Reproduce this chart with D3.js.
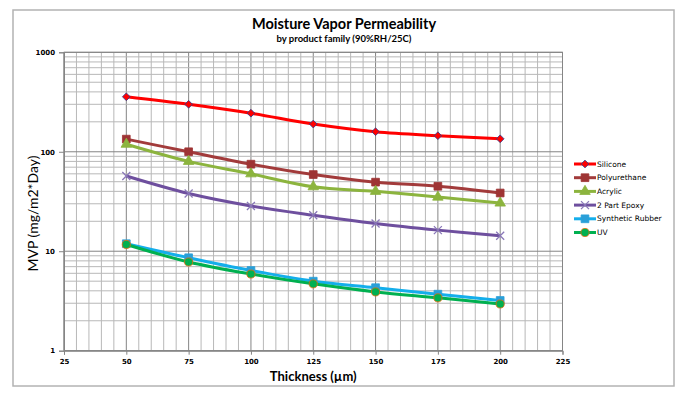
<!DOCTYPE html>
<html>
<head>
<meta charset="utf-8">
<script src="https://cdn.jsdelivr.net/npm/d3@7"></script>
<style>
  body { margin: 0; background: #ffffff; }
</style>
</head>
<body>
<svg id="chart" width="681" height="397"></svg>
<script>
// thickness in µm
const thickness = [50, 75, 100, 125, 150, 175, 200]

const silicone = [357, 300, 244, 190, 159, 145, 135]
const polyurethane = [134, 100, 75, 59, 49.5, 45, 38.5]
const acrylic = [119, 80, 60, 44.5, 40, 35, 30.5]
const epoxy = [57, 38, 28.5, 23, 19, 16.3, 14.3]
const syntheticRubber = [11.9, 8.6, 6.4, 5.0, 4.3, 3.7, 3.2]
const uv = [11.7, 7.8, 5.9, 4.7, 3.9, 3.4, 2.95]

const xTicks = [25, 50, 75, 100, 125, 150, 175, 200, 225]
const yTicks = [1, 10, 100, 1000]

const series = [
  { name: "Silicone", values: silicone, line: "#ff0000", fill: "#ff0000", stroke: "#2f3f8f", marker: "diamond" },
  { name: "Polyurethane", values: polyurethane, line: "#a23b3b", fill: "#9e3434", stroke: "#9e3434", marker: "square" },
  { name: "Acrylic", values: acrylic, line: "#8cb43e", fill: "#8cb43e", stroke: "#8cb43e", marker: "triangle" },
  { name: "2 Part Epoxy", values: epoxy, line: "#6e4f9e", fill: "none", stroke: "#8a78b8", marker: "x" },
  { name: "Synthetic Rubber", values: syntheticRubber, line: "#14aeeb", fill: "#2a9fd8", stroke: "#2a9fd8", marker: "square" },
  { name: "UV", values: uv, line: "#00b050", fill: "#00b050", stroke: "#e46c0a", marker: "circle" }
]

const width = 681, height = 397
const margin = { top: 52.3, right: 118.5, bottom: 46.3, left: 64 }
const chartWidth = width - margin.left - margin.right
const chartHeight = height - margin.top - margin.bottom

const svg = d3.select("#chart")

// chart area border
svg.append("rect")
  .attr("x", 13).attr("y", 10)
  .attr("width", 661).attr("height", 376)
  .attr("fill", "#ffffff")
  .attr("stroke", "#b3b3b3")
  .attr("stroke-width", 1.5)

const x = d3.scaleLinear().domain([25, 225]).range([0, chartWidth])
const y = d3.scaleLog().domain([1, 1000]).range([chartHeight, 0])

const g = svg.append("g")
  .attr("transform", `translate(${margin.left},${margin.top})`)

// grid
const grid = g.append("g").attr("id", "grid")
const minorX = d3.range(25, 226, 5)
grid.selectAll("line.vx")
  .data(minorX)
  .join("line")
  .attr("x1", d => x(d)).attr("x2", d => x(d))
  .attr("y1", 0).attr("y2", chartHeight)
  .attr("stroke", d => d % 25 === 0 ? "#858585" : "#b8b8b8")
  .attr("stroke-width", 1)

const minorY = []
for (let dec = 1; dec < 1000; dec *= 10) {
  for (let k = 1; k < 10; k++) minorY.push(dec * k)
}
minorY.push(1000)
grid.selectAll("line.hy")
  .data(minorY)
  .join("line")
  .attr("x1", 0).attr("x2", chartWidth)
  .attr("y1", d => y(d)).attr("y2", d => y(d))
  .attr("stroke", d => yTicks.includes(d) ? "#858585" : "#b8b8b8")
  .attr("stroke-width", 1)

g.append("rect")
  .attr("width", chartWidth).attr("height", chartHeight)
  .attr("fill", "none").attr("stroke", "#858585")

// axes
const xAxis = g.append("g")
  .attr("transform", `translate(0,${chartHeight})`)
  .call(d3.axisBottom(x).tickValues(xTicks).tickSize(4).tickPadding(4).tickFormat(d3.format("d")))
const yAxis = g.append("g")
  .call(d3.axisLeft(y).tickValues(yTicks).tickSize(5).tickPadding(4).tickFormat(d3.format("d")))

for (const ax of [xAxis, yAxis]) {
  ax.select(".domain").attr("stroke", "#858585")
  ax.selectAll(".tick line").attr("stroke", "#858585")
  ax.selectAll(".tick text")
    .attr("font-family", "DejaVu Sans, sans-serif")
    .attr("font-size", 7)
    .attr("font-weight", "bold")
    .attr("fill", "#000")
}

// series
const line = d3.line()
  .x((d, i) => x(thickness[i]))
  .y(d => y(d))
  .curve(d3.curveCatmullRom.alpha(0.5))

function drawMarker(sel, s, cx, cy) {
  if (s.marker === "x") {
    const r = 4
    sel.append("path")
      .attr("d", `M${cx - r},${cy - r}L${cx + r},${cy + r}M${cx - r},${cy + r}L${cx + r},${cy - r}`)
      .attr("stroke", s.stroke).attr("stroke-width", 1.3).attr("fill", "none")
    return
  }
  if (s.marker === "diamond") {
    // square turned 45 degrees, Excel style
    sel.append("path")
      .attr("d", d3.symbol().type(d3.symbolSquare).size(30)())
      .attr("transform", `translate(${cx},${cy}) rotate(45)`)
      .attr("fill", s.fill)
      .attr("stroke", s.stroke)
      .attr("stroke-width", 0.8)
    return
  }
  const type = {
    square: d3.symbolSquare,
    triangle: d3.symbolTriangle,
    circle: d3.symbolCircle
  }[s.marker]
  const size = { square: 60, triangle: 48, circle: 52 }[s.marker]
  sel.append("path")
    .attr("d", d3.symbol().type(type).size(size)())
    .attr("transform", `translate(${cx},${cy})`)
    .attr("fill", s.fill)
    .attr("stroke", s.stroke)
    .attr("stroke-width", 0.8)
}

const vizLayer = g.append("g").attr("id", "viz")
series.forEach(s => {
  const sg = vizLayer.append("g")
  sg.append("path")
    .attr("d", line(s.values))
    .attr("fill", "none")
    .attr("stroke", s.line)
    .attr("stroke-width", 3)
  s.values.forEach((v, i) => drawMarker(sg, s, x(thickness[i]), y(v)))
})

// titles
svg.append("text")
  .attr("x", 344).attr("y", 29)
  .attr("text-anchor", "middle")
  .attr("font-family", "Lato, sans-serif")
  .attr("font-weight", "bold")
  .attr("font-size", 14.5)
  .text("Moisture Vapor Permeability")
svg.append("text")
  .attr("x", 344).attr("y", 41.5)
  .attr("text-anchor", "middle")
  .attr("font-family", "Lato, sans-serif")
  .attr("font-weight", "bold")
  .attr("font-size", 9.5)
  .text("by product family (90%RH/25C)")

svg.append("text")
  .attr("x", margin.left + chartWidth / 2).attr("y", 380.5)
  .attr("text-anchor", "middle")
  .attr("font-family", "Lato, sans-serif")
  .attr("font-weight", "bold")
  .attr("font-size", 13)
  .text("Thickness (µm)")

svg.append("text")
  .attr("transform", `translate(38,${margin.top + chartHeight / 2 + 12}) rotate(-90)`)
  .attr("text-anchor", "middle")
  .attr("font-family", "Lato, sans-serif")
  .attr("font-size", 14)
  .text("MVP (mg/m2*Day)")

// legend
const legend = svg.append("g").attr("transform", "translate(574,164)")
series.forEach((s, i) => {
  const lg = legend.append("g").attr("transform", `translate(0,${i * 13.7})`)
  lg.append("line")
    .attr("x1", 0).attr("x2", 22)
    .attr("stroke", s.line).attr("stroke-width", 3)
  drawMarker(lg, s, 11, 0)
  lg.append("text")
    .attr("x", 23).attr("dy", "0.35em")
    .attr("font-family", "DejaVu Sans, sans-serif")
    .attr("font-size", 7.5)
    .attr("fill", "#000")
    .text(s.name)
})
</script>
</body>
</html>
